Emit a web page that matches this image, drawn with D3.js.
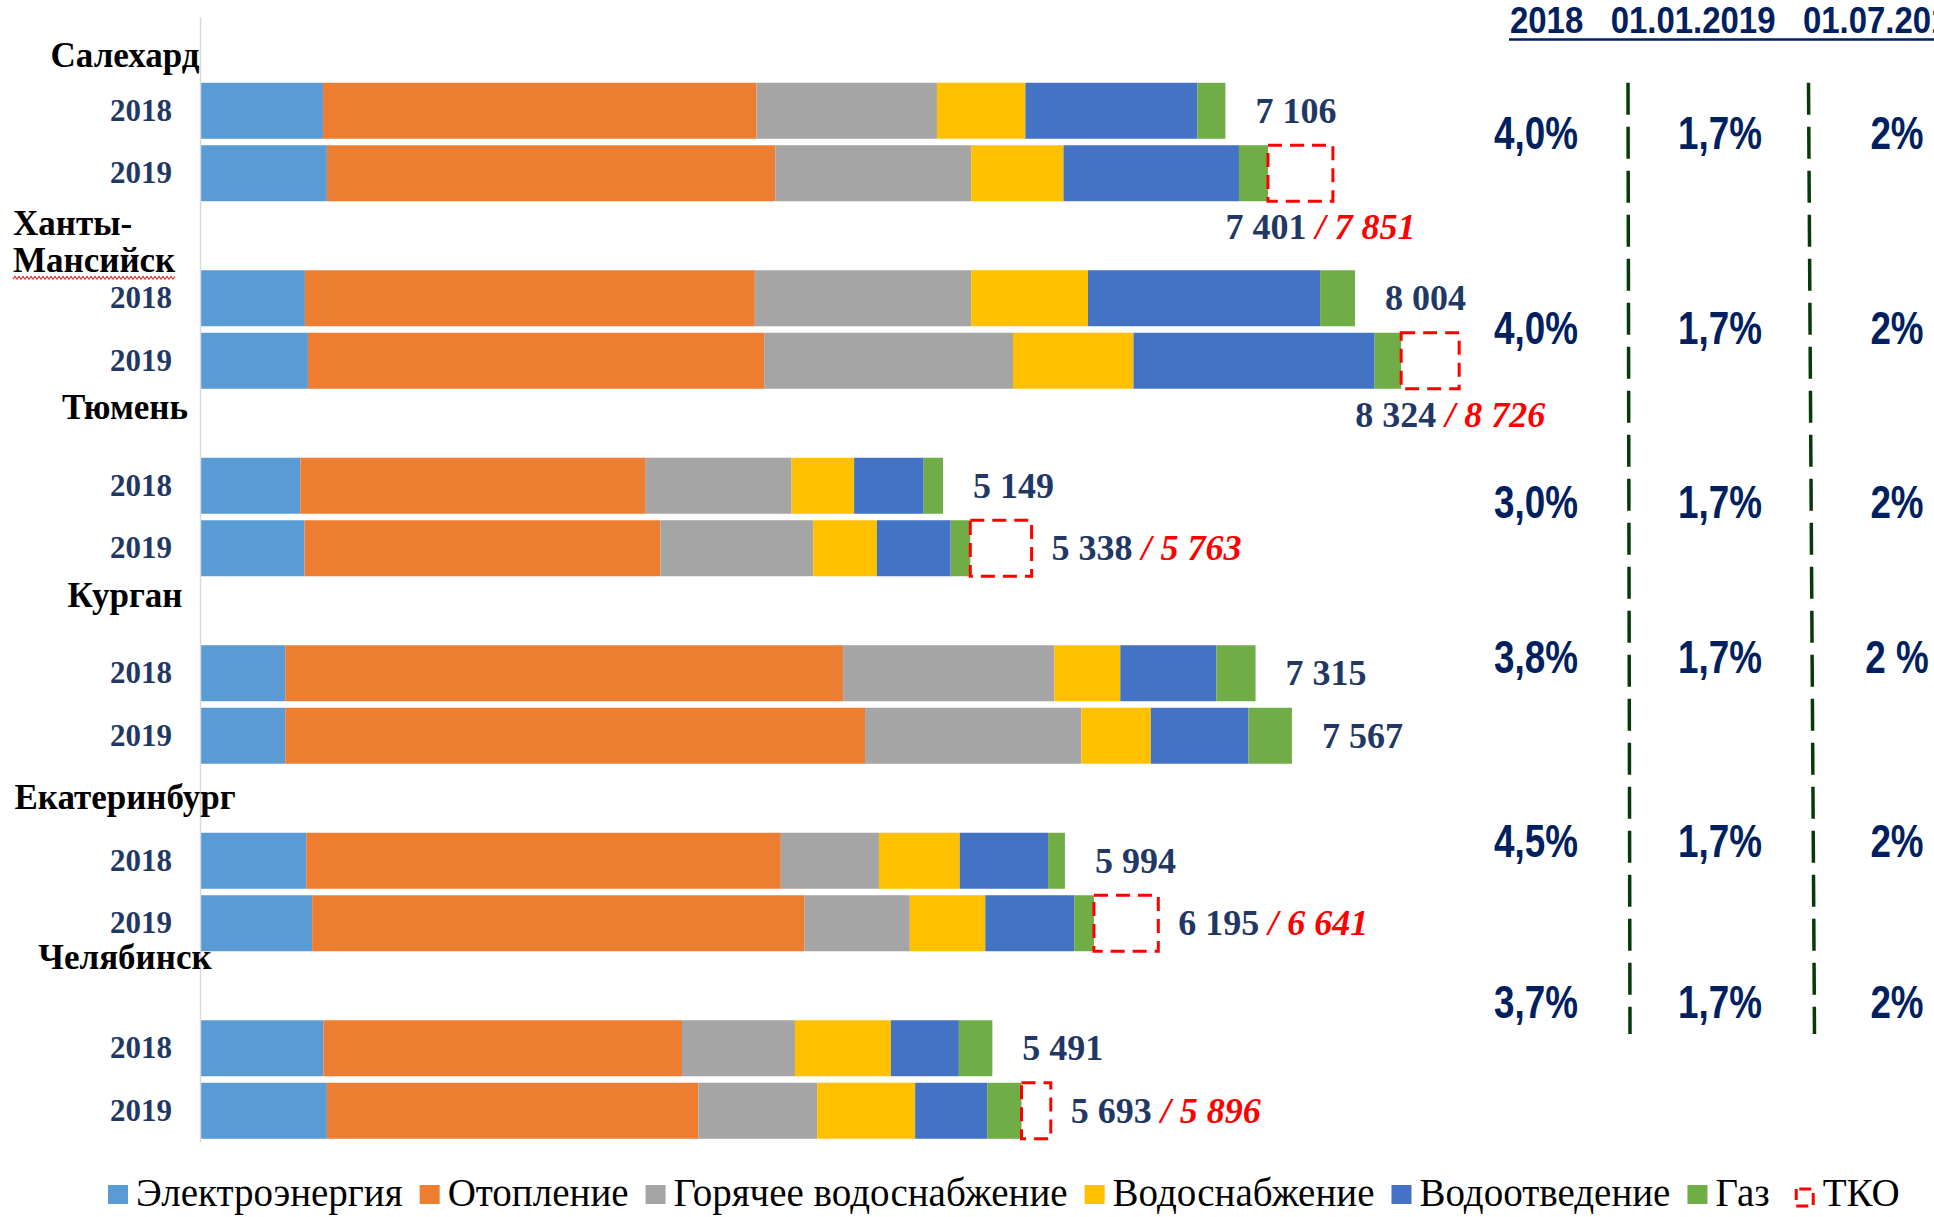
<!DOCTYPE html>
<html>
<head>
<meta charset="utf-8">
<title>tariffs</title>
<script src="https://cdn.jsdelivr.net/npm/d3@7"></script>
<style>
    body{
        margin:0;
        background:#fff;
    }
    svg{display:block;}
</style>
</head>
<body>
<div id="chart"></div>
<script>
// ---- data (rub.) ----
var cities = ["Салехард", "Ханты-Мансийск", "Тюмень", "Курган", "Екатеринбург", "Челябинск"]
var years = ["2018", "2019"]
var services = ["Электроэнергия", "Отопление", "Горячее водоснабжение", "Водоснабжение", "Водоотведение", "Газ"]

// each array: city by city, 2018 then 2019
var electro  = [852, 879, 727, 748, 695, 724, 591, 591, 736, 777, 855, 879]
var heating  = [3005, 3108, 3118, 3162, 2394, 2467, 3866, 4018, 3289, 3413, 2485, 2575]
var hotWater = [1250, 1357, 1499, 1724, 1011, 1058, 1464, 1499, 680, 729, 783, 823]
var water    = [613, 640, 810, 835, 433, 442, 457, 481, 560, 523, 665, 679]
var sewage   = [1192, 1216, 1608, 1671, 482, 511, 665, 677, 612, 616, 471, 499]
var gas      = [194, 201, 242, 184, 134, 136, 272, 301, 117, 137, 232, 238]

var total2018 = [7106, 8004, 5149, 7315, 5994, 5491]
var total2019 = [7401, 8324, 5338, 7567, 6195, 5693]
var withTko2019 = [7851, 8726, 5763, null, 6641, 5896]

var tableHead = "2018   01.01.2019   01.07.2019"
var rate2018 = ["4,0%", "4,0%", "3,0%", "3,8%", "4,5%", "3,7%"]
var rate0101 = ["1,7%", "1,7%", "1,7%", "1,7%", "1,7%", "1,7%"]
var rate0107 = ["2%", "2%", "2%", "2 %", "2%", "2%"]

var series = [electro, heating, hotWater, water, sewage, gas]
var colors = ["#5b9bd5", "#ed7d31", "#a5a5a5", "#ffc000", "#4472c4", "#70ad47"]

var w = 1934
var h = 1217
var serif = "'Liberation Serif', 'Times New Roman', serif"
var sans = "'Liberation Sans', Arial, sans-serif"
var navy = "#1f3864"
var navy2 = "#002060"

var svg = d3.select("#chart").append("svg")
    .attr("width", w)
    .attr("height", h)

// one empty row for the city name, then 2018, 2019
var rows = []
cities.forEach(function(c){
    rows.push(c + "|")
    years.forEach(function(y){ rows.push(c + "|" + y) })
})

var yScale = d3.scaleBand().domain(rows).range([17, 1142]).paddingInner(0.104).paddingOuter(0.052)
var xScale = d3.scaleLinear().domain([0, 10000]).range([200, 1643])
var color = d3.scaleOrdinal().domain(services).range(colors)
var fmt = d3.formatLocale({decimal: ",", thousands: " ", grouping: [3], currency: ["", ""]}).format(",d")

var bars = []
cities.forEach(function(c, i){
    years.forEach(function(y, j){
        var k = i * 2 + j
        var x0 = 0
        series.forEach(function(s, si){
            bars.push({row: c + "|" + y, service: services[si], x0: x0, x1: x0 + s[k]})
            x0 += s[k]
        })
    })
})

svg.selectAll("rect.seg")
    .data(bars)
    .enter()
    .append("rect")
    .attr("class", "seg")
    .attr("x", function(d){ return xScale(d.x0) })
    .attr("y", function(d){ return yScale(d.row) })
    .attr("width", function(d){ return xScale(d.x1) - xScale(d.x0) })
    .attr("height", yScale.bandwidth())
    .attr("fill", function(d){ return color(d.service) })

// left axis with year labels
var yAxis = d3.axisLeft(yScale)
    .tickSize(0)
    .tickPadding(28)
    .tickFormat(function(d){ return d.split("|")[1] })

var ax = svg.append("g")
    .attr("transform", "translate(200,0)")
    .call(yAxis)
ax.select(".domain").attr("stroke", "#d9d9d9").attr("stroke-width", 1.5)
ax.selectAll("text")
    .attr("font-family", serif)
    .attr("font-weight", "bold")
    .attr("font-size", 31)
    .attr("fill", navy)

// city names (hand placed a little, like the original text boxes)
var labelDy = [8, -12, -15, -15, 0, -28]
cities.forEach(function(c, i){
    var cy = yScale(c + "|") + yScale.bandwidth() / 2 + 12 + labelDy[i]
    var parts = c.indexOf("-") > 0 ? [c.split("-")[0] + "-", c.split("-")[1]] : [c]
    parts.forEach(function(p, pi){
        var t = svg.append("text")
            .text(p)
            .attr("x", parts.length > 1 ? 13 : 125)
            .attr("y", cy - 1 + pi * 37)
            .attr("text-anchor", parts.length > 1 ? "start" : "middle")
            .attr("font-family", serif)
            .attr("font-weight", "bold")
            .attr("font-size", 35)
            .attr("fill", "#000")
        if(parts.length > 1 && pi == 1){
            // spell-check squiggle
            var len = t.node().getComputedTextLength()
            var pts = d3.range(0, Math.floor(len / 2) + 1).map(function(n){ return [13 + n * 2, cy + 36 + 6 + (n % 2 ? -1.5 : 1.5)] })
            svg.append("path").attr("d", d3.line()(pts)).attr("fill", "none").attr("stroke", "#e23b3b").attr("stroke-width", 1.2)
        }
    })
})

// TKO boxes and totals
cities.forEach(function(c, i){
    years.forEach(function(y){
        var row = c + "|" + y
        var top = yScale(row)
        var cy = top + yScale.bandwidth() / 2
        var total = y == "2018" ? total2018[i] : total2019[i]
        var tko = y == "2019" ? withTko2019[i] : null
        if(tko){
            svg.append("rect")
                .attr("x", xScale(total))
                .attr("y", top)
                .attr("width", xScale(tko) - xScale(total))
                .attr("height", yScale.bandwidth())
                .attr("fill", "none")
                .attr("stroke", "#ff0000")
                .attr("stroke-width", 3)
                .attr("stroke-dasharray", "14 8")
        }
        var end = tko ? xScale(tko) + 20 : xScale(total) + 30
        var lab = svg.append("text")
            .attr("x", end)
            .attr("y", cy + 12)
            .attr("font-family", serif)
            .attr("font-weight", "bold")
            .attr("font-size", 36)
            .attr("fill", navy)
        lab.append("tspan").text(fmt(total))
        if(tko){
            lab.append("tspan").attr("fill", "#ff0000").attr("font-style", "italic").text(" / " + fmt(tko))
        }
        var len = lab.node().getComputedTextLength()
        if(end + len > 1480){
            lab.attr("text-anchor", "middle")
                .attr("x", (xScale(total) + xScale(tko)) / 2 + 20)
                .attr("y", top + yScale.bandwidth() + 38)
        }
    })
})

// table on the right
var colX = [1536, 1720, 1897]
var rowY = d3.scalePoint().domain(cities).range([133, 1002])
var rateDy = [0, 21, 21, 3, 13, 0]

svg.append("text")
    .attr("transform", "translate(1510,33) scale(0.89,1)")
    .attr("xml:space", "preserve")
    .style("white-space", "pre")
    .attr("font-family", sans)
    .attr("font-weight", "bold")
    .attr("font-size", 37)
    .attr("fill", navy2)
    .text(tableHead)
svg.append("line")
    .attr("x1", 1509).attr("x2", w)
    .attr("y1", 39.5).attr("y2", 39.5)
    .attr("stroke", navy2)
    .attr("stroke-width", 2.5)

var rates = [rate2018, rate0101, rate0107]
rates.forEach(function(col, ci){
    svg.selectAll(".rate" + ci)
        .data(col)
        .enter()
        .append("text")
        .attr("class", "rate" + ci)
        .attr("transform", function(d, i){ return "translate(" + colX[ci] + "," + (rowY(cities[i]) + rateDy[i] + 16) + ") scale(0.8,1)" })
        .attr("xml:space", "preserve")
        .style("white-space", "pre")
        .attr("text-anchor", "middle")
        .attr("font-family", sans)
        .attr("font-weight", "bold")
        .attr("font-size", 46)
        .attr("fill", navy2)
        .text(function(d){ return d })
})

// dashed separators between columns
;[0, 1].forEach(function(k){
    var sx = (colX[k] + colX[k + 1]) / 2
    svg.append("line")
        .attr("x1", sx).attr("x2", sx + (k ? 6 : 2))
        .attr("y1", yScale(cities[0] + "|2018"))
        .attr("y2", rowY(cities[cities.length - 1]) + 32)
        .attr("stroke", "#073a07")
        .attr("stroke-width", 3.5)
        .attr("stroke-dasharray", "32 12")
})

// legend
var legend = svg.append("g").attr("transform", "translate(108,1185)")
var lx = 0
var items = services.map(function(s){ return {name: s, fill: color(s), tko: false} })
items.push({name: "ТКО", fill: "none", tko: true})
items.forEach(function(it){
    if(it.tko){
        lx += 8
        legend.append("rect")
            .attr("x", lx + 1.5).attr("y", 4)
            .attr("width", 17).attr("height", 17)
            .attr("fill", "none")
            .attr("stroke", "#ff0000")
            .attr("stroke-width", 3)
            .attr("stroke-dasharray", "12 6")
            .attr("stroke-dashoffset", -3)
    } else {
        legend.append("rect")
            .attr("x", lx).attr("y", 0)
            .attr("width", 20).attr("height", 19)
            .attr("fill", it.fill)
    }
    var t = legend.append("text")
        .attr("x", lx + 28)
        .attr("y", 21)
        .attr("font-family", serif)
        .attr("font-size", 39)
        .attr("fill", "#000")
        .text(it.name)
    lx += 28 + t.node().getComputedTextLength() + 17
})
</script>
</body>
</html>
